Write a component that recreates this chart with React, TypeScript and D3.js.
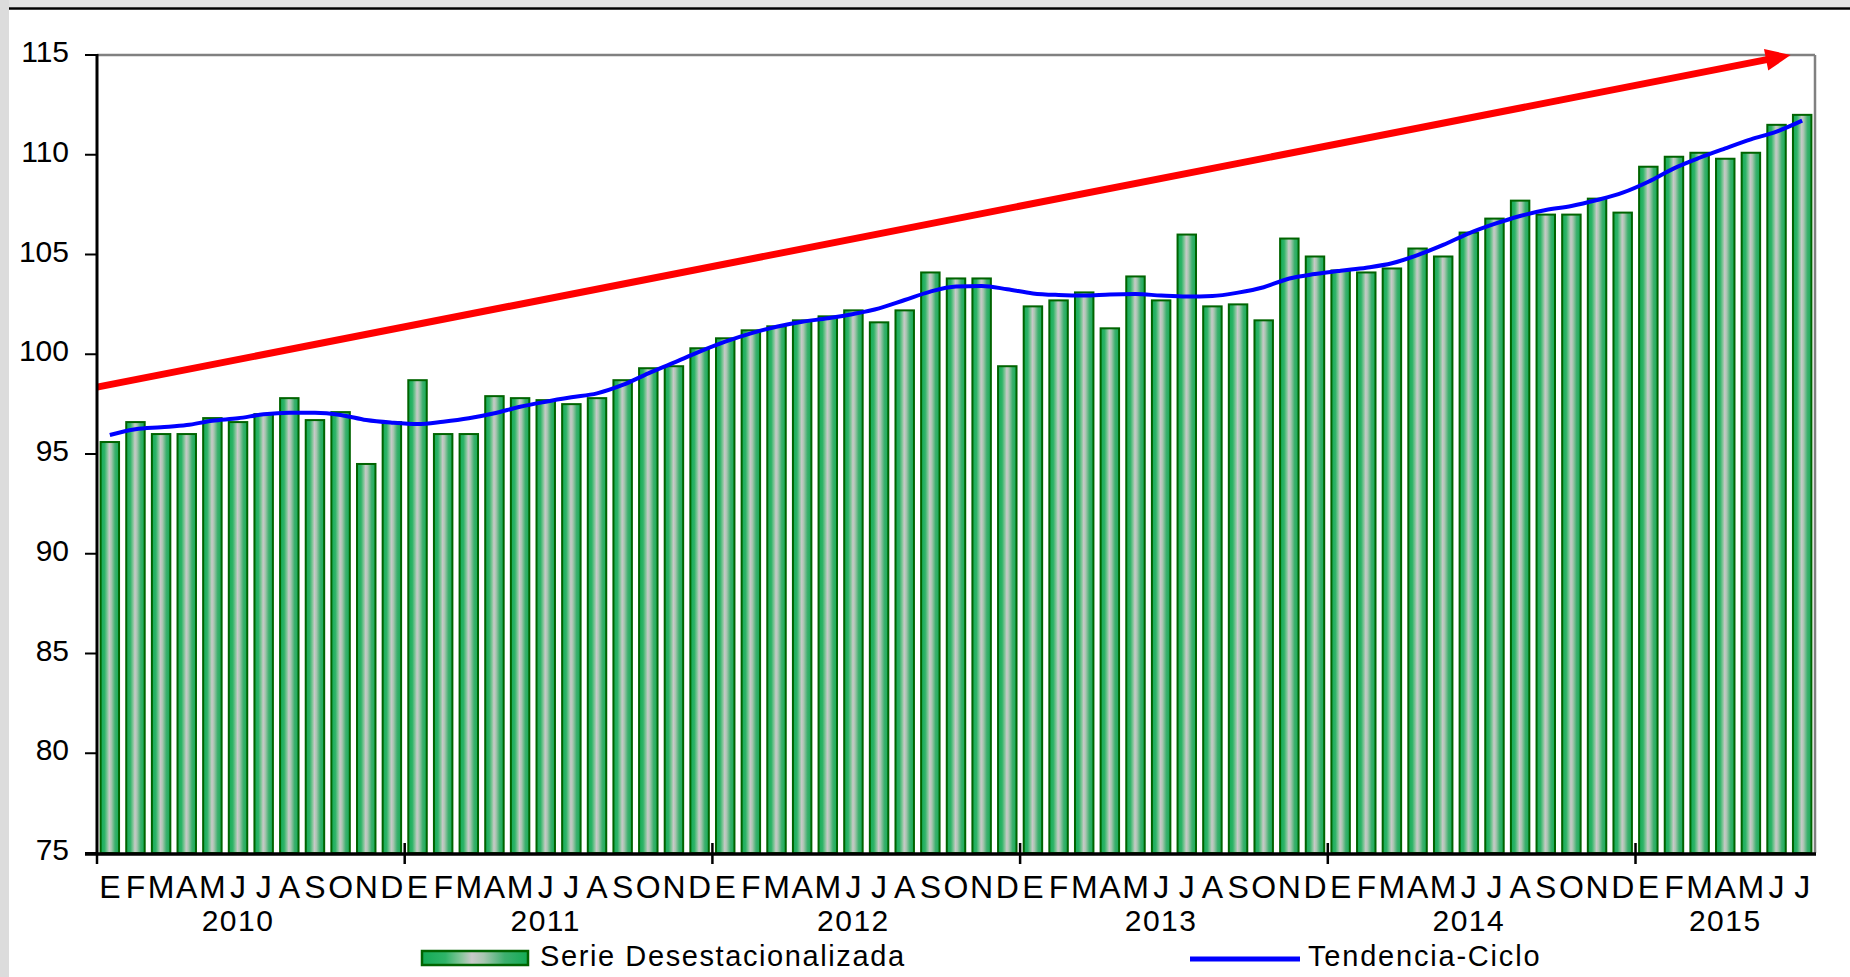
import React, { useEffect, useRef } from "react";
import * as d3 from "d3";

// month initials (Spanish) and years on the category axis
const months = ["E", "F", "M", "A", "M", "J", "J", "A", "S", "O", "N", "D"];
const years = ["2010", "2011", "2012", "2013", "2014", "2015"];
const monthsPerYear = [12, 12, 12, 12, 12, 7];

const yTicks = [75, 80, 85, 90, 95, 100, 105, 110, 115];

// Serie Desestacionalizada (bars), Jan 2010 - Jul 2015
const serieDesestacionalizada = [
  95.6, 96.6, 96.0, 96.0, 96.8, 96.6, 97.0, 97.8, 96.7, 97.1, 94.5, 96.6,
  98.7, 96.0, 96.0, 97.9, 97.8, 97.7, 97.5, 97.8, 98.7, 99.3, 99.4, 100.3,
  100.8, 101.2, 101.4, 101.7, 101.9, 102.2, 101.6, 102.2, 104.1, 103.8, 103.8, 99.4,
  102.4, 102.7, 103.1, 101.3, 103.9, 102.7, 106.0, 102.4, 102.5, 101.7, 105.8, 104.9,
  104.2, 104.1, 104.3, 105.3, 104.9, 106.1, 106.8, 107.7, 107.0, 107.0, 107.8, 107.1,
  109.4, 109.9, 110.1, 109.8, 110.1, 111.5, 112.0,
];

// Tendencia-Ciclo (line)
const tendenciaCiclo = [
  95.95, 96.24, 96.34, 96.45, 96.67, 96.79, 96.99, 97.07, 97.07, 96.96, 96.7, 96.57,
  96.5, 96.62, 96.79, 97.04, 97.37, 97.62, 97.84, 98.04, 98.46, 99.04, 99.58, 100.13,
  100.63, 101.05, 101.38, 101.63, 101.8, 102.02, 102.3, 102.72, 103.14, 103.39, 103.42, 103.26,
  103.05, 102.97, 102.94, 103.0, 103.02, 102.94, 102.89, 102.92, 103.09, 103.36, 103.8, 104.02,
  104.19, 104.34, 104.56, 104.97, 105.48, 106.06, 106.53, 106.93, 107.23, 107.43, 107.73, 108.1,
  108.65, 109.32, 109.85, 110.32, 110.77, 111.16, 111.71,
];

// red trend arrow, in (band position, value)
const arrowFrom = [0, 98.35];
const arrowTo = [66.05, 115];

const FONT = "'Liberation Sans', Arial, sans-serif";

const App = () => {
  const ref = useRef(null);

  useEffect(() => {
    const svg = d3.select(ref.current);
    svg.selectAll("*").remove();

    const W = 1850,
      H = 977;
    const left = 97,
      right = 1815,
      top = 55,
      bottom = 853;

    // frame
    svg.append("rect").attr("width", W).attr("height", H).attr("fill", "#fff");
    svg.append("rect").attr("width", W).attr("height", 7).attr("fill", "#e3e3e3");
    svg.append("rect").attr("width", 9).attr("height", H).attr("fill", "#dcdcdc");
    svg.append("line")
      .attr("x1", 9).attr("x2", W).attr("y1", 8.5).attr("y2", 8.5)
      .attr("stroke", "#000").attr("stroke-width", 2.5);

    const defs = svg.append("defs");
    const grad = defs.append("linearGradient").attr("id", "barGrad")
      .attr("x1", "0%").attr("x2", "100%").attr("y1", "0%").attr("y2", "0%");
    [
      [0, "#13ab55"],
      [0.22, "#2fb468"],
      [0.38, "#8cc79f"],
      [0.47, "#c9c9c9"],
      [0.58, "#a9c6b1"],
      [0.78, "#3db06e"],
      [1, "#13ab55"],
    ].forEach(([o, c]) => grad.append("stop").attr("offset", o).attr("stop-color", c));

    const n = serieDesestacionalizada.length;
    const pad = 0.28;
    const x = d3.scaleBand()
      .domain(d3.range(n).map(String))
      .range([left, right])
      .paddingInner(pad)
      .paddingOuter(pad / 2);
    const pos = (i) => left + i * x.step();

    const y = d3.scaleLinear().domain([75, 115]).range([bottom, top]);

    // plot border (gray top / right)
    svg.append("line").attr("x1", left).attr("x2", right).attr("y1", top).attr("y2", top)
      .attr("stroke", "#808080").attr("stroke-width", 2.5);
    svg.append("line").attr("x1", right).attr("x2", right).attr("y1", top).attr("y2", bottom)
      .attr("stroke", "#808080").attr("stroke-width", 2.5);

    // bars
    svg.append("g")
      .selectAll("rect")
      .data(serieDesestacionalizada)
      .enter()
      .append("rect")
      .attr("x", (d, i) => x(String(i)))
      .attr("width", x.bandwidth())
      .attr("y", (d) => y(d))
      .attr("height", (d) => bottom - y(d))
      .attr("fill", "url(#barGrad)")
      .attr("stroke", "#006400")
      .attr("stroke-width", 2);

    // red arrow
    const ax1 = pos(arrowFrom[0]), ay1 = y(arrowFrom[1]);
    const ax2 = pos(arrowTo[0]), ay2 = y(arrowTo[1]);
    const ang = Math.atan2(ay2 - ay1, ax2 - ax1);
    const headLen = 25, headW = 11;
    const bx = ax2 - headLen * Math.cos(ang), by = ay2 - headLen * Math.sin(ang);
    svg.append("line")
      .attr("x1", ax1).attr("y1", ay1).attr("x2", bx + 2 * Math.cos(ang)).attr("y2", by + 2 * Math.sin(ang))
      .attr("stroke", "#ff0000").attr("stroke-width", 7);
    svg.append("polygon")
      .attr("points", [
        [ax2, ay2],
        [bx + headW * Math.sin(ang), by - headW * Math.cos(ang)],
        [bx - headW * Math.sin(ang), by + headW * Math.cos(ang)],
      ].map((p) => p.join(",")).join(" "))
      .attr("fill", "#ff0000");

    // trend-cycle line
    const line = d3.line()
      .x((d, i) => x(String(i)) + x.bandwidth() / 2)
      .y((d) => y(d))
      .curve(d3.curveMonotoneX);
    svg.append("path")
      .datum(tendenciaCiclo)
      .attr("d", line)
      .attr("fill", "none")
      .attr("stroke", "#0000ff")
      .attr("stroke-width", 4);

    // y axis
    svg.append("line").attr("x1", left).attr("x2", left).attr("y1", top - 1).attr("y2", bottom + 1)
      .attr("stroke", "#000").attr("stroke-width", 3);
    const yg = svg.append("g");
    yTicks.forEach((t) => {
      yg.append("line").attr("x1", 85).attr("x2", left).attr("y1", y(t)).attr("y2", y(t))
        .attr("stroke", "#000").attr("stroke-width", 2);
      yg.append("text")
        .attr("x", 69).attr("y", y(t) + 7)
        .attr("text-anchor", "end")
        .style("font-family", FONT).style("font-size", "30px")
        .text(t);
    });

    // x axis
    svg.append("line").attr("x1", 85).attr("x2", right + 1).attr("y1", bottom + 1).attr("y2", bottom + 1)
      .attr("stroke", "#000").attr("stroke-width", 3.5);
    svg.append("line").attr("x1", left).attr("x2", left).attr("y1", bottom).attr("y2", bottom + 11)
      .attr("stroke", "#000").attr("stroke-width", 2.5);

    const xg = svg.append("g");
    let k = 0;
    years.forEach((yr, yi) => {
      const cnt = monthsPerYear[yi];
      for (let m = 0; m < cnt; m++) {
        xg.append("text")
          .attr("x", x(String(k + m)) + x.bandwidth() / 2)
          .attr("y", 898)
          .attr("text-anchor", "middle")
          .style("font-family", FONT).style("font-size", "32px")
          .text(months[m]);
      }
      const mid = k + Math.floor((cnt - 1) / 2);
      xg.append("text")
        .attr("x", x(String(mid)) + x.bandwidth() / 2)
        .attr("y", 931)
        .attr("text-anchor", "middle")
        .style("font-family", FONT).style("font-size", "30px")
        .style("letter-spacing", "1.5px")
        .text(yr);
      if (yi > 0) {
        xg.append("line").attr("x1", pos(k)).attr("x2", pos(k)).attr("y1", bottom - 10).attr("y2", bottom + 11)
          .attr("stroke", "#000").attr("stroke-width", 2.5);
      }
      k += cnt;
    });

    // legend
    const lg = svg.append("g");
    lg.append("rect").attr("x", 422).attr("y", 951).attr("width", 106).attr("height", 14)
      .attr("fill", "url(#barGrad)").attr("stroke", "#006400").attr("stroke-width", 2.5);
    lg.append("text").attr("x", 540).attr("y", 966)
      .style("font-family", FONT).style("font-size", "29px").style("letter-spacing", "1.6px")
      .text("Serie Desestacionalizada");
    lg.append("line").attr("x1", 1190).attr("x2", 1300).attr("y1", 959).attr("y2", 959)
      .attr("stroke", "#0000ff").attr("stroke-width", 5);
    lg.append("text").attr("x", 1308).attr("y", 966)
      .style("font-family", FONT).style("font-size", "29px").style("letter-spacing", "1.8px")
      .text("Tendencia-Ciclo");
  }, []);

  return (
    <svg
      ref={ref}
      width="1850"
      height="977"
      style={{ position: "absolute", left: 0, top: 0, display: "block" }}
    ></svg>
  );
};

export default App;
